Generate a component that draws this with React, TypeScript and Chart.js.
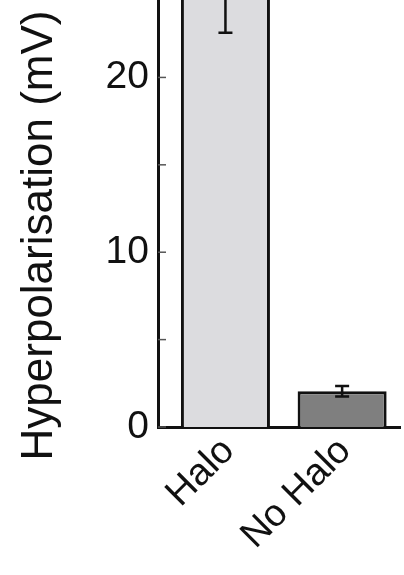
import React, { useEffect, useRef } from 'react';
import { Chart, registerables } from 'chart.js';

Chart.register(...registerables);

// ---- data ----
const categories = ['Halo', 'No Halo'];
const means = [26.0, 2.05];
const errors = [3.45, 0.3];
const barColors = ['#dcdcdf', '#7f7f7f'];
const yTickValues = [0, 5, 10, 15, 20];
const yLabeledTicks = [0, 10, 20];
const yTitle = 'Hyperpolarisation (mV)';

const FONT = '"Liberation Sans", Arial, Helvetica, sans-serif';
const INK = '#111111';

const errorBarPlugin = {
  id: 'errorBars',
  afterDatasetsDraw(chart: any) {
    const { ctx, chartArea, scales } = chart;
    const xs = scales.x;
    const ys = scales.y;
    ctx.save();
    ctx.beginPath();
    ctx.rect(chartArea.left, chartArea.top, chartArea.right - chartArea.left, chartArea.bottom - chartArea.top);
    ctx.clip();
    ctx.strokeStyle = INK;
    ctx.lineWidth = 2.5;
    means.forEach((m, i) => {
      const x = xs.getPixelForValue(i);
      const yHi = ys.getPixelForValue(m + errors[i]);
      const yLo = ys.getPixelForValue(m - errors[i]);
      const cap = 7;
      ctx.beginPath();
      ctx.moveTo(x, yHi);
      ctx.lineTo(x, yLo);
      ctx.moveTo(x - cap, yHi);
      ctx.lineTo(x + cap, yHi);
      ctx.moveTo(x - cap, yLo);
      ctx.lineTo(x + cap, yLo);
      ctx.stroke();
    });
    ctx.restore();
  },
};

const innerTicksPlugin = {
  id: 'innerTicks',
  afterDraw(chart: any) {
    const { ctx, chartArea, scales } = chart;
    const ys = scales.y;
    ctx.save();
    ctx.strokeStyle = '#555555';
    ctx.lineWidth = 1.5;
    yTickValues.forEach((v) => {
      const y = ys.getPixelForValue(v);
      ctx.beginPath();
      ctx.moveTo(chartArea.left, y);
      ctx.lineTo(chartArea.left + 8, y);
      ctx.stroke();
    });
    ctx.restore();
  },
};

const yTitlePlugin = {
  id: 'yTitle',
  afterDraw(chart: any) {
    const { ctx, chartArea } = chart;
    const cy = (chartArea.top + chartArea.bottom) / 2 + 22;
    ctx.save();
    ctx.translate(52, cy);
    ctx.rotate(-Math.PI / 2);
    ctx.font = `44px ${FONT}`;
    ctx.fillStyle = INK;
    ctx.textAlign = 'center';
    ctx.textBaseline = 'alphabetic';
    ctx.fillText(yTitle, 0, 0);
    ctx.restore();
  },
};

export default function App() {
  const canvasRef = useRef<HTMLCanvasElement | null>(null);

  useEffect(() => {
    if (!canvasRef.current) return;
    const chart = new Chart(canvasRef.current, {
      type: 'bar',
      data: {
        datasets: [
          {
            data: categories.map((_, i) => ({ x: i, y: means[i] })),
            backgroundColor: barColors,
            borderColor: INK,
            borderWidth: 3,
            barPercentage: 0.763,
            categoryPercentage: 1,
          } as any,
        ],
      },
      options: {
        animation: false,
        responsive: false,
        maintainAspectRatio: false,
        layout: { padding: { left: 0, right: 4, top: 0, bottom: 0 } },
        plugins: {
          legend: { display: false },
          tooltip: { enabled: false },
        },
        scales: {
          x: {
            type: 'linear',
            offset: false,
            min: -0.578,
            max: 1.496,
            grid: { display: false, drawTicks: false, offset: false },
            border: { display: true, color: INK, width: 3 },
            afterBuildTicks: (s: any) => {
              s.ticks = categories.map((_, i) => ({ value: i }));
            },
            afterFit: (s: any) => {
              s.height = 148;
              s.paddingLeft = 0;
              s.paddingRight = 0;
            },
            ticks: {
              autoSkip: false,
              maxRotation: 45,
              minRotation: 45,
              padding: 2,
              labelOffset: 3,
              color: INK,
              font: { size: 38, family: FONT },
              callback: (v: any) => categories[v] ?? '',
            },
          },
          y: {
            min: 0,
            max: 24.43,
            grid: { display: false, drawTicks: false },
            border: { display: true, color: INK, width: 3 },
            afterBuildTicks: (s: any) => {
              s.ticks = yTickValues.map((v) => ({ value: v }));
            },
            afterFit: (s: any) => {
              s.width = 158;
              s.paddingTop = 0;
              s.paddingBottom = 0;
            },
            ticks: {
              padding: 9,
              color: INK,
              font: { size: 39, family: FONT },
              callback: (v: any) => (yLabeledTicks.includes(v) ? String(v) : ''),
            },
          },
        },
      } as any,
      plugins: [errorBarPlugin, innerTicksPlugin, yTitlePlugin],
    });
    return () => chart.destroy();
  }, []);

  return (
    <div style={{ position: 'absolute', left: 0, top: 0, width: 404, height: 575, background: '#ffffff' }}>
      <canvas ref={canvasRef} width={404} height={575} style={{ display: 'block', width: 404, height: 575 }} />
    </div>
  );
}
